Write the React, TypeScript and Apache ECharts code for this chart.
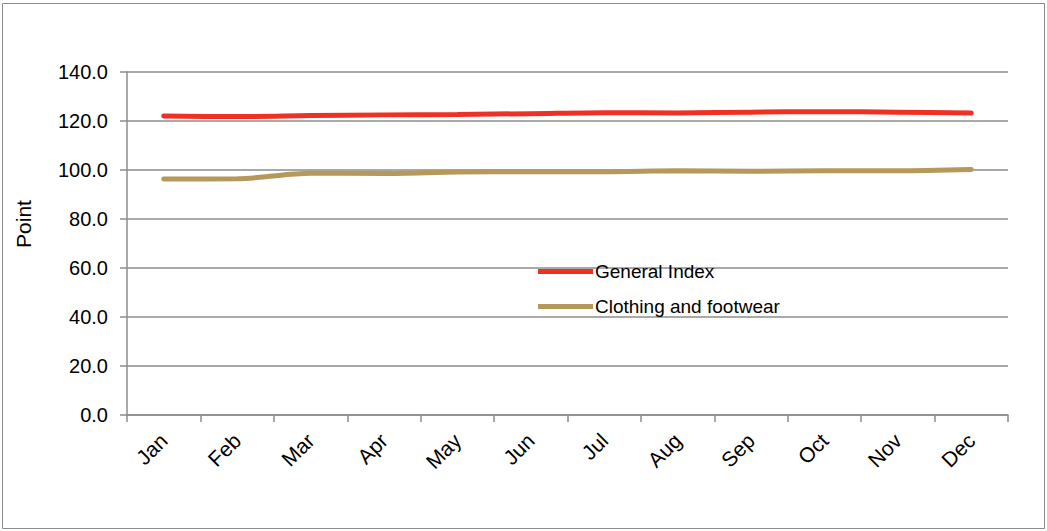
import React, { useEffect, useRef } from "react";
import * as echarts from "echarts";

const months = ["Jan", "Feb", "Mar", "Apr", "May", "Jun", "Jul", "Aug", "Sep", "Oct", "Nov", "Dec"];
const generalIndex = [122.0, 121.8, 122.2, 122.5, 122.7, 123.0, 123.4, 123.3, 123.6, 123.8, 123.6, 123.3];
const clothing = [96.3, 96.4, 98.7, 98.6, 99.2, 99.3, 99.3, 99.7, 99.5, 99.7, 99.7, 100.2];
const yAxisTitle = "Point";

export default function App() {
  const ref = useRef<HTMLDivElement>(null);
  useEffect(() => {
    const chart = echarts.init(ref.current!, null, { renderer: "svg" });
    const font = "Liberation Sans, Arial, sans-serif";
    chart.setOption({
      animation: false,
      backgroundColor: "#fff",
      graphic: [
        {
          type: "rect",
          shape: { x: 2.5, y: 3.5, width: 1042, height: 525 },
          style: { fill: "none", stroke: "#8c8c8c", lineWidth: 1 },
          silent: true,
        },
        {
          type: "text",
          x: 23,
          y: 224,
          rotation: Math.PI / 2,
          style: {
            text: yAxisTitle,
            fontFamily: font,
            fontSize: 21,
            fill: "#000",
            align: "center",
            verticalAlign: "middle",
          },
          silent: true,
        },
      ],
      grid: { left: 127, right: 39, top: 72, bottom: 116, containLabel: false },
      legend: {
        orient: "vertical",
        left: 533,
        top: 257,
        itemWidth: 55,
        itemHeight: 10,
        itemGap: 16,
        icon: "path://M0,0 L55,0 L55,5 L0,5 Z",
        textStyle: { fontFamily: font, fontSize: 19, color: "#000", padding: [0, 0, 0, -3] },
        data: ["General Index", "Clothing and footwear"],
      },
      xAxis: {
        type: "category",
        data: months,
        boundaryGap: true,
        axisLine: { lineStyle: { color: "#8c8c8c", width: 1.5 } },
        axisTick: { show: true, length: 7, lineStyle: { color: "#8c8c8c", width: 1.5 } },
        axisLabel: { rotate: 45, fontFamily: font, fontSize: 21, color: "#000", margin: 22 },
      },
      yAxis: {
        type: "value",
        min: 0,
        max: 140,
        interval: 20,
        axisLine: { show: true, lineStyle: { color: "#8c8c8c", width: 1.5 } },
        axisTick: { show: true, length: 7, lineStyle: { color: "#8c8c8c", width: 1.5 } },
        splitLine: { lineStyle: { color: "#8c8c8c", width: 1.5 } },
        axisLabel: {
          fontFamily: font,
          fontSize: 20,
          color: "#000",
          margin: 19,
          formatter: (v: number) => v.toFixed(1),
        },
      },
      series: [
        {
          name: "General Index",
          type: "line",
          data: generalIndex,
          smooth: 0.3,
          symbol: "none",
          lineStyle: { color: "#ee3124", width: 5, cap: "round" },
          itemStyle: { color: "#ee3124" },
        },
        {
          name: "Clothing and footwear",
          type: "line",
          data: clothing,
          smooth: 0.3,
          symbol: "none",
          lineStyle: { color: "#b5985a", width: 5, cap: "round" },
          itemStyle: { color: "#b5985a" },
        },
      ],
    });
    return () => chart.dispose();
  }, []);
  return <div ref={ref} style={{ width: 1047, height: 531, position: "absolute", left: 0, top: 0 }} />;
}
